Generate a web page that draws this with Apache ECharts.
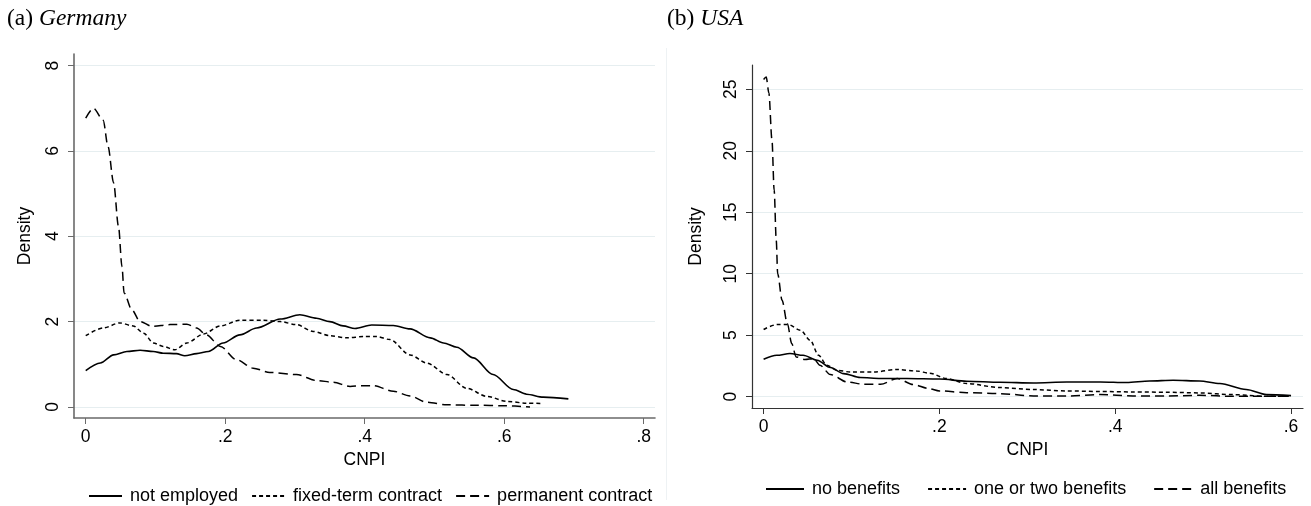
<!DOCTYPE html>
<html><head><meta charset="utf-8">
<script src="https://cdn.jsdelivr.net/npm/echarts@6/dist/echarts.min.js"></script>
<style>html,body{margin:0;padding:0;background:#fff}#c{width:1311px;height:506px}</style>
</head><body><div id="c"></div>
<script>
// ---------- Panel (a) Germany ----------
const gerNotEmployedX = [0, .021, .040, .059, .078, .097, .111, .130, .142, .159, .176, .197, .221, .245, .279, .307, .331, .350, .369, .386, .410, .441, .465, .494, .513, .532, .556, .584, .613, .632, .656, .692];
const gerNotEmployedY = [.85, 1.03, 1.22, 1.30, 1.33, 1.30, 1.26, 1.25, 1.20, 1.25, 1.30, 1.50, 1.69, 1.85, 2.06, 2.16, 2.08, 2.00, 1.90, 1.84, 1.92, 1.91, 1.83, 1.62, 1.50, 1.40, 1.15, .76, .41, .30, .23, .19];
const gerFixedX = [0, .025, .049, .068, .083, .097, .111, .128, .145, .169, .193, .221, .255, .279, .302, .326, .350, .374, .400, .417, .436, .465, .489, .518, .546, .575, .604, .632, .654];
const gerFixedY = [1.67, 1.85, 1.97, 1.90, 1.73, 1.50, 1.42, 1.34, 1.50, 1.71, 1.90, 2.03, 2.03, 2.00, 1.93, 1.77, 1.67, 1.62, 1.65, 1.65, 1.58, 1.22, 1.03, .76, .44, .25, .13, .09, .08];
const gerPermX = [0, .011, .025, .032, .040, .047, .052, .055, .066, .078, .095, .121, .145, .159, .173, .193, .216, .240, .264, .302, .331, .355, .379, .395, .412, .441, .465, .489, .518, .561, .599, .637];
const gerPermY = [6.77, 7.0, 6.72, 6.10, 5.25, 4.23, 3.29, 2.67, 2.28, 2.0, 1.89, 1.93, 1.94, 1.85, 1.69, 1.42, 1.11, .91, .81, .76, .62, .58, .48, .50, .50, .37, .26, .11, .05, .04, .03, .0];
const gerXTicks = [0, .2, .4, .6, .8];
const gerXTickLabels = ['0', '.2', '.4', '.6', '.8'];
const gerYTicks = [0, 2, 4, 6, 8];
const gerYTickLabels = ['0', '2', '4', '6', '8'];
const gerNames = ['not employed', 'fixed-term contract', 'permanent contract'];

// ---------- Panel (b) USA ----------
const usaNoneX = [0, .015, .030, .045, .061, .076, .091, .110, .133, .163, .200, .231, .269, .307, .345, .383, .413, .439, .466, .496, .519, .549, .572, .600];
const usaNoneY = [3.04, 3.36, 3.50, 3.36, 2.96, 2.36, 1.87, 1.55, 1.47, 1.47, 1.43, 1.25, 1.16, 1.11, 1.19, 1.19, 1.14, 1.27, 1.33, 1.27, 1.06, .57, .16, .08];
const usaSomeX = [0, .015, .028, .042, .053, .0625, .072, .083, .0985, .125, .152, .174, .189, .208, .231, .269, .307, .345, .383, .420, .458, .496, .534, .572, .600];
const usaSomeY = [5.46, 5.86, 5.86, 5.40, 4.58, 3.36, 2.55, 2.14, 2.00, 2.00, 2.20, 2.08, 1.90, 1.47, 1.06, .73, .57, .46, .41, .38, .35, .30, .16, .02, .02];
const usaAllX = [0, .003, .006, .0095, .012, .0144, .016, .021, .027, .032, .037, .047, .057, .064, .076, .095, .114, .133, .152, .170, .188, .200, .231, .269, .307, .345, .383, .420, .458, .496, .534, .595];
const usaAllY = [25.8, 26.0, 24.7, 20.9, 16.8, 12.7, 10.0, 7.84, 5.94, 4.32, 3.23, 3.01, 3.09, 2.55, 1.79, 1.19, 1.0, 1.0, 1.47, .98, .65, .46, .32, .24, .05, .05, .16, .05, .05, .10, .02, .02];
const usaXTicks = [0, .2, .4, .6];
const usaXTickLabels = ['0', '.2', '.4', '.6'];
const usaYTicks = [0, 5, 10, 15, 20, 25];
const usaYTickLabels = ['0', '5', '10', '15', '20', '25'];
const usaNames = ['no benefits', 'one or two benefits', 'all benefits'];

const SANS = '"Liberation Sans", Arial, sans-serif';
const SERIF = '"Liberation Serif", "Times New Roman", serif';
const FS = 17.5;

function pairs(xs, ys) { return xs.map((x, i) => [x, ys[i]]); }
function labeler(ticks, labels) {
  return v => { const i = ticks.findIndex(t => Math.abs(t - v) < 1e-9); return i >= 0 ? labels[i] : ''; };
}
function xAxisDef(gi, min, max, ticks, labels, axisColor, axisW) {
  return {
    type: 'value', gridIndex: gi, min: min, max: max,
    name: 'CNPI', nameLocation: 'middle', nameGap: 29,
    nameTextStyle: { fontFamily: SANS, fontSize: FS, color: '#000' },
    axisLine: { show: true, onZero: false, lineStyle: { color: axisColor, width: axisW } },
    axisTick: { show: true, length: 6, customValues: ticks, lineStyle: { color: axisColor, width: 1 } },
    axisLabel: { customValues: ticks, formatter: labeler(ticks, labels), margin: 10, fontFamily: SANS, fontSize: FS, color: '#000' },
    splitLine: { show: false }
  };
}
function yAxisDef(gi, min, max, ticks, labels, axisColor, axisW, nameGap) {
  return {
    type: 'value', gridIndex: gi, min: min, max: max,
    name: 'Density', nameLocation: 'middle', nameGap: nameGap, nameRotate: 90,
    nameTextStyle: { fontFamily: SANS, fontSize: FS, color: '#000' },
    axisLine: { show: true, onZero: false, lineStyle: { color: axisColor, width: axisW } },
    axisTick: { show: true, length: 6, customValues: ticks, lineStyle: { color: axisColor, width: 1 } },
    axisLabel: { customValues: ticks, formatter: labeler(ticks, labels), rotate: 90, margin: 12, fontFamily: SANS, fontSize: FS, color: '#000' },
    splitLine: { show: true, lineStyle: { color: '#e6eef0', width: 1.2 } }
  };
}
function lineSeries(name, xi, data, type) {
  const ls = { color: '#000', width: 1.6, type: 'solid' };
  if (type === 'dot') { ls.type = [4, 3]; ls.width = 1.5; }
  if (type === 'dash') { ls.type = [9, 5]; ls.width = 1.5; }
  return {
    name: name, type: 'line', xAxisIndex: xi, yAxisIndex: xi, data: data,
    showSymbol: false, symbol: 'none', smooth: 0.3, smoothMonotone: 'x',
    lineStyle: ls, itemStyle: { color: '#000' }, silent: true, animation: false
  };
}
const titleRich = {
  r: { fontFamily: SERIF, fontSize: 23.5, fontWeight: 'normal', color: '#000' },
  i: { fontFamily: SERIF, fontSize: 23.5, fontWeight: 'normal', fontStyle: 'italic', color: '#000' }
};
const legendBase = {
  padding: 0,
  itemHeight: 14,
  itemStyle: { color: 'rgba(0,0,0,0)', borderWidth: 0, opacity: 0 },
  textStyle: { fontFamily: SANS, fontSize: 18, color: '#000', padding: [0, 0, 0, 3] }
};

const chart = echarts.init(document.getElementById('c'), null, { renderer: 'canvas' });
chart.setOption({
  backgroundColor: '#fff',
  animation: false,
  title: [
    { text: '{r|(a) }{i|Germany}', left: 2, top: 2, textStyle: { fontWeight: 'normal', rich: titleRich } },
    { text: '{r|(b) }{i|USA}', left: 662, top: 2, textStyle: { fontWeight: 'normal', rich: titleRich } }
  ],
  legend: [
    Object.assign({}, legendBase, { data: gerNames, left: 88, top: 487, itemWidth: 33, itemGap: 13 }),
    Object.assign({}, legendBase, { data: usaNames, left: 765, top: 480, itemWidth: 38, itemGap: 27 })
  ],
  grid: [
    { left: 74, top: 54, width: 581, height: 364 },
    { left: 752, top: 65, width: 551, height: 343 }
  ],
  xAxis: [
    xAxisDef(0, -0.0168, 0.8162, gerXTicks, gerXTickLabels, '#6a6a6a', 1.6),
    xAxisDef(1, -0.0132, 0.6136, usaXTicks, usaXTickLabels, '#333', 1.2)
  ],
  yAxis: [
    yAxisDef(0, -0.258, 8.27, gerYTicks, gerYTickLabels, '#6a6a6a', 1.6, 40),
    yAxisDef(1, -0.93, 26.98, usaYTicks, usaYTickLabels, '#333', 1.2, 47)
  ],
  graphic: [
    { type: 'line', shape: { x1: 666.5, y1: 48, x2: 666.5, y2: 500 }, style: { stroke: '#eef2f4', lineWidth: 1 }, silent: true }
  ],
  series: [
    lineSeries(gerNames[0], 0, pairs(gerNotEmployedX, gerNotEmployedY), 'solid'),
    lineSeries(gerNames[1], 0, pairs(gerFixedX, gerFixedY), 'dot'),
    lineSeries(gerNames[2], 0, pairs(gerPermX, gerPermY), 'dash'),
    lineSeries(usaNames[0], 1, pairs(usaNoneX, usaNoneY), 'solid'),
    lineSeries(usaNames[1], 1, pairs(usaSomeX, usaSomeY), 'dot'),
    lineSeries(usaNames[2], 1, pairs(usaAllX, usaAllY), 'dash')
  ]
});
</script></body></html>
